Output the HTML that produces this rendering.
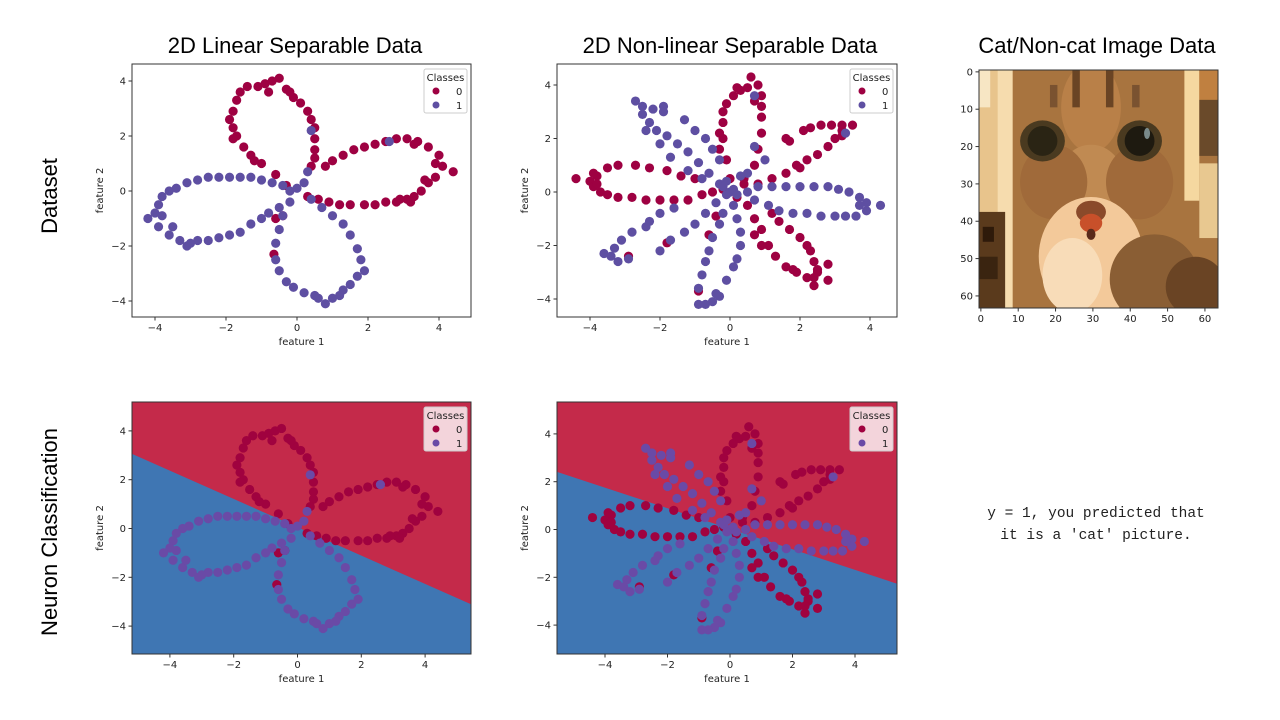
<!DOCTYPE html>
<html><head><meta charset="utf-8"><style>
body{margin:0;width:1280px;height:720px;background:#fff;overflow:hidden;font-family:"Liberation Sans",sans-serif}
svg{position:absolute;left:0;top:0}
.t{font-family:"Liberation Sans",sans-serif;font-size:22px;fill:#000}
.tk{font-family:"DejaVu Sans",sans-serif;font-size:10px;fill:#222}
.mono{font-family:"Liberation Mono",monospace;font-size:14.5px;fill:#222}
</style></head><body>
<svg id="s" width="1280" height="720">
<text class="t" x="295" y="53" text-anchor="middle">2D Linear Separable Data</text>
<text class="t" x="730" y="53" text-anchor="middle">2D Non-linear Separable Data</text>
<text class="t" x="1097" y="53" text-anchor="middle">Cat/Non-cat Image Data</text>
<text class="t" transform="translate(57,196) rotate(-90)" text-anchor="middle">Dataset</text>
<text class="t" transform="translate(57,532) rotate(-90)" text-anchor="middle">Neuron Classification</text>
<text class="mono" x="1096" y="517" text-anchor="middle">y = 1, you predicted that</text>
<text class="mono" x="1096" y="539" text-anchor="middle">it is a 'cat' picture.</text>
</svg>
<script>
// Flower dataset (linear separable) points [x,y]
const lin0=[[-0.6,0.6],[-1,1],[-1.3,1.3],[-1.5,1.6],[-1.7,2],[-1.8,2.3],[-1.9,2.6],[-1.8,2.9],[-1.7,3.3],[-1.6,3.6],[-1.4,3.8],[-1.1,3.8],[-0.9,3.9],[-0.7,4.0],[-0.5,4.1],[-0.8,3.6],[-0.3,3.7],[-0.1,3.4],[0.1,3.2],[0.3,2.9],[0.4,2.6],[0.5,2.3],[0.5,1.9],[0.5,1.5],[0.5,1.2],[0.4,0.9],[-1.8,1.9],[-1.2,1.1],[-0.2,3.6],
[0.3,-0.2],[0.6,-0.3],[0.9,-0.4],[1.2,-0.5],[1.5,-0.5],[1.9,-0.5],[2.2,-0.5],[2.5,-0.4],[2.8,-0.4],[3.1,-0.3],[3.3,-0.2],[3.5,0],[3.7,0.3],[3.9,0.5],[4.1,0.9],[4.4,0.7],[4.0,1.3],[3.7,1.6],[3.4,1.8],[3.1,1.9],[2.8,1.9],[2.5,1.8],[2.2,1.7],[1.9,1.6],[1.6,1.5],[1.3,1.3],[1.0,1.1],[0.8,0.9],[3.2,-0.4],[2.9,-0.3],[3.6,0.4],[3.9,1.0],[3.3,1.7],
[-0.6,-1.0],[-0.4,-0.9],[-0.65,-2.3],[-0.3,0.2]];
const lin1=[[-0.4,0.2],[-0.7,0.3],[-1,0.4],[-1.3,0.5],[-1.6,0.5],[-1.9,0.5],[-2.2,0.5],[-2.5,0.5],[-2.8,0.4],[-3.1,0.3],[-3.4,0.1],[-3.6,0],[-3.8,-0.2],[-3.9,-0.5],[-4.0,-0.8],[-4.2,-1.0],[-3.9,-1.3],[-3.6,-1.6],[-3.3,-1.8],[-3.1,-2.0],[-2.8,-1.8],[-2.5,-1.8],[-2.2,-1.7],[-1.9,-1.6],[-1.6,-1.5],[-1.3,-1.2],[-1.0,-1.0],[-0.8,-0.8],[-0.5,-0.6],[-3.8,-0.9],[-3.5,-1.3],[-3.0,-1.9],
[-0.2,-0.4],[-0.4,-0.9],[-0.5,-1.4],[-0.6,-1.9],[-0.6,-2.5],[-0.5,-2.9],[-0.3,-3.3],[-0.1,-3.5],[0.2,-3.7],[0.5,-3.8],[0.8,-4.1],[1.0,-3.9],[1.3,-3.6],[1.5,-3.4],[1.7,-3.1],[1.9,-2.9],[1.8,-2.5],[1.7,-2.1],[1.5,-1.6],[1.3,-1.2],[1.0,-0.9],[0.7,-0.6],[0.4,-0.3],[1.2,-3.8],[0.6,-3.9],[-0.2,0],[0,0.1],[0.2,0.3],
[0.4,2.2],[2.6,1.8],[0.3,0.7]];
// Flower dataset (non-linear) points
const non0=[[0,0.5],[-0.1,1.2],[-0.2,2],[-0.2,2.6],[-0.2,3.0],[-0.1,3.3],[0.1,3.6],[0.3,3.8],[0.5,3.9],[0.6,4.3],[0.8,4.0],[0.9,3.6],[0.9,3.2],[0.9,2.8],[0.9,2.2],[0.8,1.6],[0.7,1.0],[0.4,0.5],[-0.3,2.2],[-0.3,1.6],[0.2,3.9],[0.7,3.4],
[-0.5,0],[-1,0.5],[-1.4,0.6],[-1.8,0.8],[-2.3,0.9],[-2.7,1.0],[-3.2,1.0],[-3.5,0.9],[-3.8,0.6],[-4.0,0.4],[-4.4,0.5],[-3.9,0.2],[-3.7,0.0],[-3.5,-0.1],[-3.2,-0.2],[-2.8,-0.2],[-2.4,-0.3],[-2.0,-0.3],[-1.6,-0.3],[-1.2,-0.3],[-0.8,-0.1],[-3.9,0.7],[-3.8,0.3],
[0.4,0.3],[0.8,0.3],[1.2,0.5],[1.6,0.7],[1.9,1.0],[2.2,1.2],[2.5,1.4],[2.8,1.7],[3.0,2.0],[3.2,2.3],[3.5,2.5],[3.2,2.5],[2.9,2.5],[2.6,2.5],[2.3,2.4],[2.1,2.3],[1.6,2.0],[1.7,1.9],[2.0,0.9],[3.2,2.1],
[0.5,-0.5],[0.7,-1.0],[0.9,-1.4],[1.1,-2.0],[1.3,-2.4],[1.6,-2.8],[1.9,-3.0],[2.2,-3.2],[2.4,-3.5],[2.5,-3.0],[2.4,-2.6],[2.3,-2.2],[2.2,-2.0],[2.0,-1.7],[1.7,-1.4],[1.4,-1.1],[1.2,-0.8],[2.8,-2.7],[2.8,-3.3],[1.8,-2.9],[0.7,-1.6],[2.5,-2.9],[2.4,-3.2],[0.9,-2.0],
[-0.4,-0.9],[-0.6,-1.6],[-0.9,-3.7],[-1.8,-1.9],[-2.9,-2.4],[0.2,-0.2],[-0.2,0.1]];
const non1=[[-0.3,0.3],[-0.6,0.7],[-0.9,1.1],[-1.2,1.5],[-1.5,1.8],[-1.8,2.1],[-2.1,2.3],[-2.3,2.6],[-2.5,2.9],[-2.7,3.4],[-2.5,3.2],[-2.2,3.1],[-1.9,3.0],[-1.9,3.2],[-1.3,2.7],[-1.0,2.3],[-0.7,2.0],[-0.5,1.6],[-0.3,1.2],[-2.4,2.3],[-2.0,1.8],[-1.7,1.3],[-1.2,0.8],[-0.8,0.5],
[0.5,0],[0.8,0.2],[1.2,0.2],[1.6,0.2],[2.0,0.2],[2.4,0.2],[2.8,0.2],[3.1,0.1],[3.4,0.0],[3.7,-0.2],[3.9,-0.4],[4.3,-0.5],[3.9,-0.7],[3.6,-0.9],[3.3,-0.9],[3.0,-0.9],[2.6,-0.9],[2.2,-0.8],[1.8,-0.8],[1.4,-0.7],[1.1,-0.5],[0.7,-0.3],[3.7,-0.5],
[-0.4,-0.4],[-0.7,-0.8],[-1.0,-1.2],[-1.3,-1.5],[-1.7,-1.8],[-2.0,-2.2],[-2.4,-1.3],[-2.8,-1.5],[-3.1,-1.8],[-3.3,-2.1],[-3.6,-2.3],[-3.2,-2.6],[-2.9,-2.5],[-1.6,-0.6],[-2.0,-0.8],[-2.3,-1.1],[-3.4,-2.4],
[0.1,-0.5],[0.2,-1.0],[0.3,-1.5],[0.3,-2.0],[0.2,-2.5],[0.1,-2.8],[-0.1,-3.3],[-0.3,-3.9],[-0.5,-4.1],[-0.7,-4.2],[-0.9,-4.2],[-0.9,-3.6],[-0.8,-3.1],[-0.7,-2.6],[-0.6,-2.2],[-0.5,-1.7],[-0.3,-1.2],[-0.2,-0.8],[-0.4,-3.8],
[0.7,3.6],[0.7,1.7],[1.0,1.2],[3.3,2.2],[0,0],[0.1,0.1],[-0.1,-0.1],[0.2,-0.1],[-0.2,0.2],[0.3,0.6],[0.5,0.7],[-0.1,0.4]];
const xTicks=[-4,-2,0,2,4];
const yTicks=[-4,-2,0,2,4];
const catTicks=[0,10,20,30,40,50,60];
// decision boundaries: y = m*x + b
const linLine=[-0.58,0.05];
const nonLine=[-0.43,0.03];

const NS='http://www.w3.org/2000/svg';
const svg=document.getElementById('s');
function mk(tag,attrs,parent){const e=document.createElementNS(NS,tag);for(const k in attrs)e.setAttribute(k,attrs[k]);(parent||svg).appendChild(e);return e;}
function fmt(v){return v<0?'\u2212'+(-v):''+v;}
function plot(o){
  const g=mk('g',{});
  
  
  const sx=v=>o.x0+v*o.kx, sy=v=>o.y0-v*o.ky;
  const L=o.box[0],T=o.box[1],R=o.box[2],B=o.box[3];
  const cid='c'+o.name;
  const cp=mk('clipPath',{id:cid},g);mk('rect',{x:L,y:T,width:R-L,height:B-T},cp);
  const inner=mk('g',{'clip-path':'url(#'+cid+')'},g);
  if(o.line){
    const xl=(L-o.x0)/o.kx,xr=(R-o.x0)/o.kx;
    const bg=mk('rect',{x:L,y:T,width:R-L,height:B-T,fill:'#3f76b3'},inner);
    
    
    const rp=mk('polygon',{points:`${L},${T} ${R},${T} ${R},${sy(o.line[0]*xr+o.line[1])} ${L},${sy(o.line[0]*xl+o.line[1])}`,fill:'#c42a4a'},inner);
    
    
  }
  const c0=o.line?'#a0023f':'#9e0142', c1=o.line?'#6a4aa6':'#5e4fa2';
  o.d0.forEach(p=>{const c=mk('circle',{cx:sx(p[0]),cy:sy(p[1]),r:4.6,fill:c0},inner);
    
    });
  o.d1.forEach(p=>{const c=mk('circle',{cx:sx(p[0]),cy:sy(p[1]),r:4.6,fill:c1},inner);
    
    });
  const fr=mk('rect',{x:L,y:T,width:R-L,height:B-T,fill:'none',stroke:'#333','stroke-width':1},g);
  
  
  xTicks.forEach(v=>{const X=sx(v);mk('line',{x1:X,x2:X,y1:B,y2:B+3.5,stroke:'#333'},g);
    const t=mk('text',{x:X,y:B+14,'text-anchor':'middle',class:'tk'},g);t.textContent=fmt(v);
    
    });
  yTicks.forEach(v=>{const Y=sy(v);mk('line',{x1:L-3.5,x2:L,y1:Y,y2:Y,stroke:'#333'},g);
    const t=mk('text',{x:L-6,y:Y+3.5,'text-anchor':'end',class:'tk'},g);t.textContent=fmt(v);
    
    });
  const xl=mk('text',{x:(L+R)/2,y:B+28,'text-anchor':'middle',class:'tk'},g);xl.textContent='feature 1';
  
  
  const yl=mk('text',{transform:`translate(${L-29},${(T+B)/2}) rotate(-90)`,'text-anchor':'middle',class:'tk'},g);yl.textContent='feature 2';
  
  
  const lg=mk('g',{},g);
  
  
  const lx=R-47,ly=T+5;
  mk('rect',{x:lx,y:ly,width:43,height:44,rx:2,fill:o.line?'rgba(255,255,255,0.8)':'#fff',stroke:'#ccc'},lg);
  const lt=mk('text',{x:lx+21.5,y:ly+12,'text-anchor':'middle',class:'tk'},lg);lt.textContent='Classes';
  
  
  [['0',c0],['1',c1]].forEach((e,i)=>{mk('circle',{cx:lx+12,cy:ly+22+i*14,r:3.5,fill:e[1]},lg);
    const t=mk('text',{x:lx+32,y:ly+26+i*14,class:'tk'},lg);t.textContent=e[0];
    
    });
}
plot({name:'linear-data-plot',box:[132,64,471,317],x0:297,kx:35.5,y0:191,ky:27.5,d0:lin0,d1:lin1});
plot({name:'nonlinear-data-plot',box:[557,64,897,317],x0:730,kx:35,y0:192,ky:26.75,d0:non0,d1:non1});
plot({name:'linear-classification-plot',box:[132,402,471,654],x0:297.5,kx:31.9,y0:528.5,ky:24.4,d0:lin0,d1:lin1,line:linLine});
plot({name:'nonlinear-classification-plot',box:[557,402,897,654],x0:730,kx:31.25,y0:529.5,ky:23.9,d0:non0,d1:non1,line:nonLine});

// Cat image (approximation)
(function(){
  const L=979,T=70,S=239/64;
  const g=mk('g',{});
  
  
  const cp=mk('clipPath',{id:'catclip'},g);mk('rect',{x:L,y:T,width:239,height:238},cp);
  const im=mk('g',{'clip-path':'url(#catclip)'},g);
  const P=(x,y,w,h,f)=>mk('rect',{x:L+x*S,y:T+y*S,width:w*S,height:h*S,fill:f},im);
  const E=(x,y,rx,ry,f)=>mk('ellipse',{cx:L+x*S,cy:T+y*S,rx:rx*S,ry:ry*S,fill:f},im);
  P(0,0,64,64,'#a8743f');
  P(0,0,9,64,'#e8c48c');P(0,0,3,10,'#f7e6c4');P(5,0,4,64,'#f6dcae');
  P(0,38,7,26,'#5a3a1c');P(1,42,3,4,'#2e1a0a');P(0,50,5,6,'#3a2410');
  P(55,0,4,35,'#f5d8a0');P(59,0,5,8,'#c08040');P(59,8,5,15,'#6a4a2a');P(59,25,5,20,'#e8c890');
  E(30,10,8,12,'#b98048');E(30,30,9,10,'#c08a52');
  E(20,30,9,10,'#a06a3a');E(43,30,9,10,'#a06a3a');
  E(30,50,14,16,'#f3c99a');E(25,55,8,10,'#f8dcb8');E(47,56,12,12,'#8a5e34');E(58,58,8,8,'#6a4424');
  E(17,19,6,5.5,'#4a3a20');E(17,19,4,4,'#2a2414');E(43,19,6,5.5,'#4a3a20');E(43,19,4,4,'#1e1a10');
  E(45,17,0.8,1.5,'#7a8a8a');
  E(30,38,4,3,'#8a4a2a');E(30,41,3,2.5,'#c8502a');E(30,44,1.2,1.5,'#5a2a1a');
  P(25,0,2,10,'#6a4424');P(34,0,2,10,'#6a4424');P(19,4,2,6,'#7a5230');P(41,4,2,6,'#7a5230');
  mk('rect',{x:L,y:T,width:239,height:238,fill:'none',stroke:'#333'},g);
  catTicks.forEach(v=>{const X=L+(v+0.5)*S;mk('line',{x1:X,x2:X,y1:T+238,y2:T+241.5,stroke:'#333'},g);
    const t=mk('text',{x:X,y:T+252,'text-anchor':'middle',class:'tk'},g);t.textContent=v;
    
    
    const Y=T+(v+0.5)*S;mk('line',{x1:L-3.5,x2:L,y1:Y,y2:Y,stroke:'#333'},g);
    const u=mk('text',{x:L-6,y:Y+3.5,'text-anchor':'end',class:'tk'},g);u.textContent=v;
    
    });
})();
</script>
</body></html>
